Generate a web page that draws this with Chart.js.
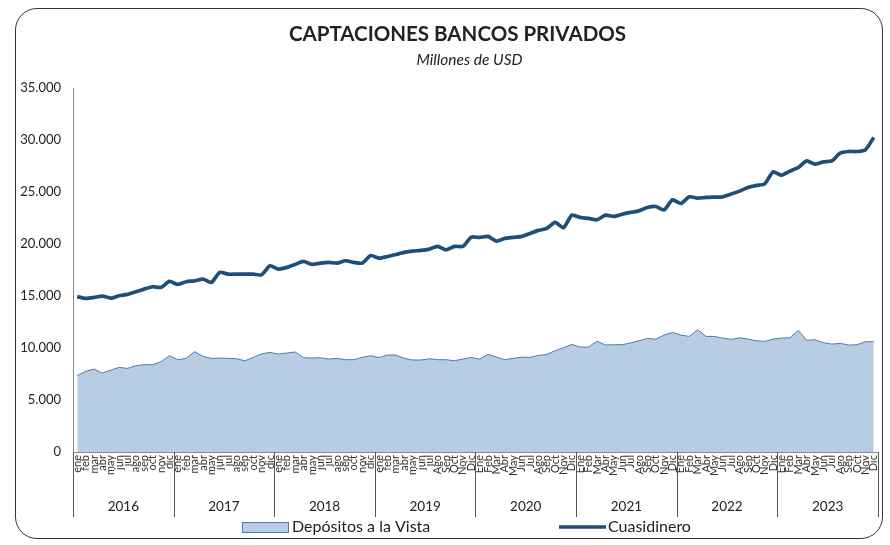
<!DOCTYPE html>
<html>
<head>
<meta charset="utf-8">
<script src="https://cdn.jsdelivr.net/npm/chart.js@4"></script>
<style>
  body { margin: 0; background: #fff; }
  #marco {
    position: absolute; left: 15px; top: 8px; width: 866px; height: 529px;
    border: 1.6px solid #333; border-radius: 22px;
  }
  #wrap { position: absolute; left: 0; top: 0; width: 890px; height: 545px; }
</style>
</head>
<body>
<div id="marco"></div>
<div id="wrap"><canvas id="myChart"></canvas></div>
<script>
const ctx = document.getElementById('myChart').getContext('2d');

// etiquetas de meses (2016-2019 en minusculas, luego con mayuscula)
const mesesMin = ["ene", "feb", "mar", "abr", "may", "jun", "jul", "ago", "sep", "oct", "nov", "dic"];
const meses2019 = ["ene", "feb", "mar", "abr", "may", "jun", "jul", "Ago", "Sep", "Oct", "Nov", "Dic"];
const mesesMay = ["Ene", "Feb", "Mar", "Abr", "May", "Jun", "Jul", "Ago", "Sep", "Oct", "Nov", "Dic"];
const anios = ["2016", "2017", "2018", "2019", "2020", "2021", "2022", "2023"];

const etiquetas = [].concat(mesesMin, mesesMin, mesesMin, meses2019, mesesMay, mesesMay, mesesMay, mesesMay);

// millones de USD
const depositos = [
  7340, 7760, 7980, 7600, 7880, 8140, 8040, 8300, 8400, 8400, 8690, 9260,
  8880, 9010, 9650, 9200, 9010, 9040, 9010, 8980, 8780, 9100, 9450, 9580,
  9420, 9520, 9620, 9070, 9040, 9070, 8940, 9010, 8880, 8880, 9100, 9260,
  9090, 9330, 9330, 9010, 8850, 8850, 8970, 8880, 8880, 8780, 8940, 9100,
  8940, 9390, 9130, 8880, 9010, 9130, 9100, 9290, 9390, 9740, 10030, 10350,
  10100, 10100, 10670, 10300, 10320, 10320, 10500, 10700, 10930, 10860, 11250, 11510,
  11250, 11120, 11760, 11120, 11120, 10960, 10830, 10990, 10860, 10700, 10640, 10860,
  10960, 10990, 11700, 10740, 10800, 10510, 10380, 10450, 10290, 10320, 10610, 10610
];

const cuasidinero = [
  14950, 14780, 14870, 15000, 14800, 15030, 15160, 15420, 15670, 15900, 15830, 16410,
  16120, 16380, 16470, 16630, 16310, 17280, 17110, 17110, 17110, 17110, 17050, 17910,
  17600, 17760, 18050, 18330, 18050, 18170, 18240, 18170, 18400, 18240, 18170, 18900,
  18650, 18810, 19000, 19200, 19330, 19390, 19520, 19780, 19450, 19780, 19780, 20670,
  20640, 20740, 20290, 20550, 20640, 20740, 21030, 21320, 21510, 22090, 21570, 22790,
  22560, 22470, 22340, 22790, 22660, 22880, 23050, 23200, 23520, 23620, 23300, 24260,
  23910, 24550, 24420, 24490, 24520, 24550, 24810, 25100, 25450, 25640, 25800, 26950,
  26630, 27020, 27370, 28010, 27690, 27910, 28010, 28750, 28910, 28910, 29070, 30260
];

const fuente = "Lato, 'Open Sans', sans-serif";
const colorLinea = '#1f4e79';
const colorArea = '#b8cce4';
const bordeArea = '#4f7ab5';

function separarMiles(v) {
  return String(v).replace(/\B(?=(\d{3})+(?!\d))/g, '.');
}

// el titulo y el subtitulo en el original estan algo corridos a la derecha
const correrTitulos = {
  id: 'correrTitulos',
  afterLayout(chart) {
    chart.boxes.forEach(b => {
      if (!b.options || typeof b.options.text !== 'string') return;
      if (b.options.text === 'Millones de USD') b.left += 42;
      else if (b.options.text.startsWith('CAPTACIONES')) b.left += 18;
    });
  }
};

// lineas verticales que separan los anios
const separadores = {
  id: 'separadores',
  afterDraw(chart) {
    const x = chart.scales.x;
    const x2 = chart.scales.x2;
    const c = chart.ctx;
    c.save();
    c.strokeStyle = '#555';
    c.lineWidth = 1;
    for (let k = 0; k <= anios.length; k++) {
      let px;
      if (k === 0) px = chart.chartArea.left;
      else if (k === anios.length) px = chart.chartArea.right;
      else px = (x.getPixelForValue(12 * k - 1) + x.getPixelForValue(12 * k)) / 2;
      px = Math.round(px) + 0.5;
      c.beginPath();
      c.moveTo(px, chart.chartArea.bottom);
      c.lineTo(px, x2.bottom);
      c.stroke();
    }
    c.restore();
  }
};

// leyenda dibujada a mano para separar los items como en el original
const leyenda = {
  id: 'leyenda',
  afterDraw(chart) {
    const c = chart.ctx;
    const y = 527;
    c.save();
    c.font = "16px " + fuente;
    c.textBaseline = 'middle';
    // Depositos a la Vista
    c.fillStyle = colorArea;
    c.fillRect(242, y - 5, 46, 10);
    c.strokeStyle = bordeArea;
    c.lineWidth = 1;
    c.strokeRect(242.5, y - 4.5, 46, 10);
    c.fillStyle = '#222';
    c.fillText(chart.data.datasets[0].label, 292, y);
    // Cuasidinero
    c.strokeStyle = colorLinea;
    c.lineWidth = 3.5;
    c.beginPath();
    c.moveTo(559, y);
    c.lineTo(606, y);
    c.stroke();
    c.fillText(chart.data.datasets[1].label, 608, y);
    c.restore();
  }
};

const myChart = new Chart(ctx, {
  type: 'line',
  data: {
    labels: etiquetas,
    datasets: [
      {
        label: 'Depósitos a la Vista',
        data: depositos,
        fill: 'origin',
        backgroundColor: colorArea,
        borderColor: bordeArea,
        borderWidth: 1,
        pointRadius: 0,
        tension: 0,
        order: 2
      },
      {
        label: 'Cuasidinero',
        data: cuasidinero,
        fill: false,
        borderColor: colorLinea,
        backgroundColor: colorLinea,
        borderWidth: 3.7,
        pointRadius: 0,
        tension: 0.2,
        order: 1
      }
    ]
  },
  options: {
    responsive: true,
    maintainAspectRatio: false,
    animation: false,
    layout: { padding: { left: 18, right: 11, top: 8, bottom: 28 } },
    plugins: {
      legend: { display: false },
      tooltip: { enabled: false },
      title: {
        display: true,
        text: 'CAPTACIONES BANCOS PRIVADOS',
        color: '#222',
        font: { family: fuente, size: 20.5, weight: 'bold' },
        padding: { top: 14, bottom: 2 }
      },
      subtitle: {
        display: true,
        text: 'Millones de USD',
        color: '#222',
        font: { family: fuente, size: 15.5, style: 'italic' },
        padding: { top: 2, bottom: 19 }
      }
    },
    scales: {
      x: {
        offset: true,
        grid: { display: false, drawTicks: false },
        border: { display: true, color: '#8a8a8a' },
        afterFit: (s) => { s.height = 26; },
        ticks: {
          autoSkip: false,
          maxRotation: 90,
          minRotation: 90,
          padding: 3,
          color: '#333',
          font: { family: fuente, size: 11 }
        }
      },
      x2: {
        type: 'category',
        labels: anios,
        position: 'bottom',
        offset: true,
        grid: { display: false, drawTicks: false },
        border: { display: false },
        afterFit: (s) => { s.height = 39; },
        ticks: {
          padding: 21,
          color: '#222',
          font: { family: fuente, size: 13.5 }
        }
      },
      y: {
        min: 0,
        max: 35000,
        grid: { display: false, drawTicks: false },
        border: { display: true, color: '#8a8a8a' },
        afterFit: (s) => { s.width = 55; },
        ticks: {
          stepSize: 5000,
          padding: 12,
          color: '#222',
          font: { family: fuente, size: 13 },
          callback: (v) => separarMiles(v)
        }
      }
    }
  },
  plugins: [correrTitulos, separadores, leyenda]
});
</script>
</body>
</html>
